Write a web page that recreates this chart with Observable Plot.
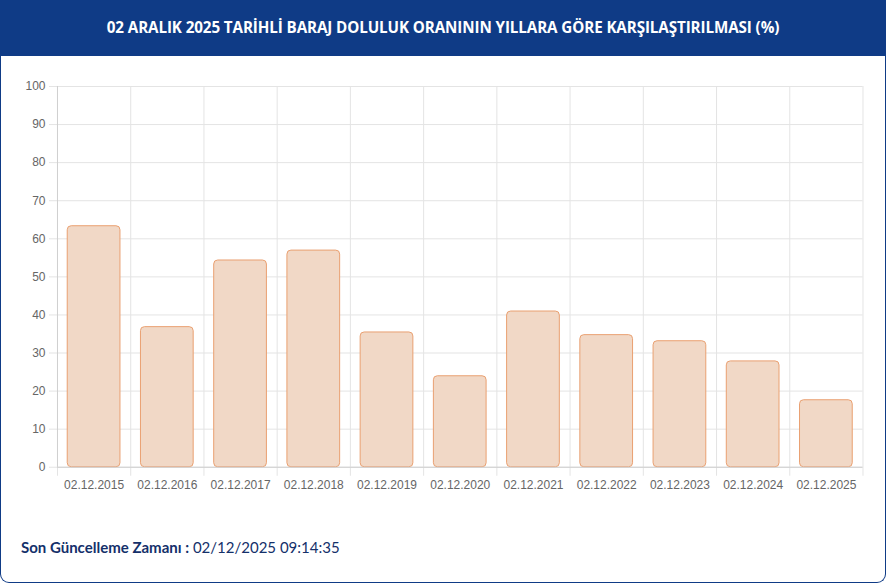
<!DOCTYPE html>
<html>
<head>
<meta charset="utf-8">
<script src="https://cdn.jsdelivr.net/npm/d3@7"></script>
<script src="https://cdn.jsdelivr.net/npm/@observablehq/plot@0.6"></script>
<style>
  html, body { margin: 0; padding: 0; background: #fff; }
  #card {
    position: relative; width: 886px; height: 583px; box-sizing: border-box;
    border: 1.5px solid #0f3b86; border-top: none; border-radius: 0 0 9px 9px; overflow: hidden;
    background: #fff;
  }
  #hdr {
    height: 56px; background: #0f3b86; color: #fff; text-align: center;
    font: bold 15.2px "Open Sans", "Lato", sans-serif; line-height: 54px; letter-spacing: -0.1px;
  }
  #chart { position: absolute; left: -1.5px; top: 56px; }
  #foot {
    position: absolute; left: 20px; top: 538px; font: 15px "Lato", "Open Sans", sans-serif; color: #14306a;
  }
  #foot b { font-weight: 700; }
</style>
</head>
<body>
<div id="card">
  <div id="hdr">02 ARALIK 2025 TARİHLİ BARAJ DOLULUK ORANININ YILLARA GÖRE KARŞILAŞTIRILMASI (%)</div>
  <div id="chart"></div>
  <div id="foot"><b>Son Güncelleme Zamanı :</b> 02/12/2025 09:14:35</div>
</div>
<script>
const dates = ["02.12.2015","02.12.2016","02.12.2017","02.12.2018","02.12.2019","02.12.2020","02.12.2021","02.12.2022","02.12.2023","02.12.2024","02.12.2025"];
const values = [63.3, 36.8, 54.3, 56.9, 35.4, 23.9, 40.9, 34.7, 33.1, 27.8, 17.6];
const yTicks = [0,10,20,30,40,50,60,70,80,90,100];

const data = dates.map((d, i) => ({date: d, value: values[i]}));
const W = 886, H = 450, mL = 57, mR = 23, mT = 30, mB = 39;
const half = (W - mL - mR) / dates.length / 2;

const chart = Plot.plot({
  width: W, height: H,
  marginLeft: mL, marginRight: mR, marginTop: mT, marginBottom: mB,
  style: {fontFamily: "'Liberation Sans', Arial, sans-serif", fontSize: "12px", color: "#666", background: "transparent"},
  x: {domain: dates, paddingInner: 0.28, paddingOuter: 0.14, round: false, label: null},
  y: {domain: [0, 100], label: null},
  marks: [
    Plot.ruleY(yTicks, {stroke: "#e4e4e4", insetLeft: -8}),
    Plot.ruleX(dates, {x: d => d, dx: -half, y1: 100, y2: 0, stroke: "#e4e4e4", insetBottom: -9}),
    Plot.ruleX([dates[dates.length-1]], {x: d => d, dx: half, y1: 100, y2: 0, stroke: "#e4e4e4", insetBottom: -9}),
    Plot.ruleX([dates[0]], {x: d => d, dx: -half, y1: 100, y2: 0, stroke: "#cfcfcf"}),
    Plot.barY(data, {x: "date", y: "value", fill: "#f1d8c6", stroke: "#e9a070", strokeWidth: 1, rx: 4}),
    Plot.ruleY([0], {stroke: "#cfcfcf"}),
    Plot.axisY({ticks: yTicks, tickSize: 0, tickPadding: 12, fill: "#666"}),
    Plot.axisX({tickSize: 0, tickPadding: 13, fill: "#666"})
  ]
});
document.getElementById("chart").append(chart);
</script>
</body>
</html>
